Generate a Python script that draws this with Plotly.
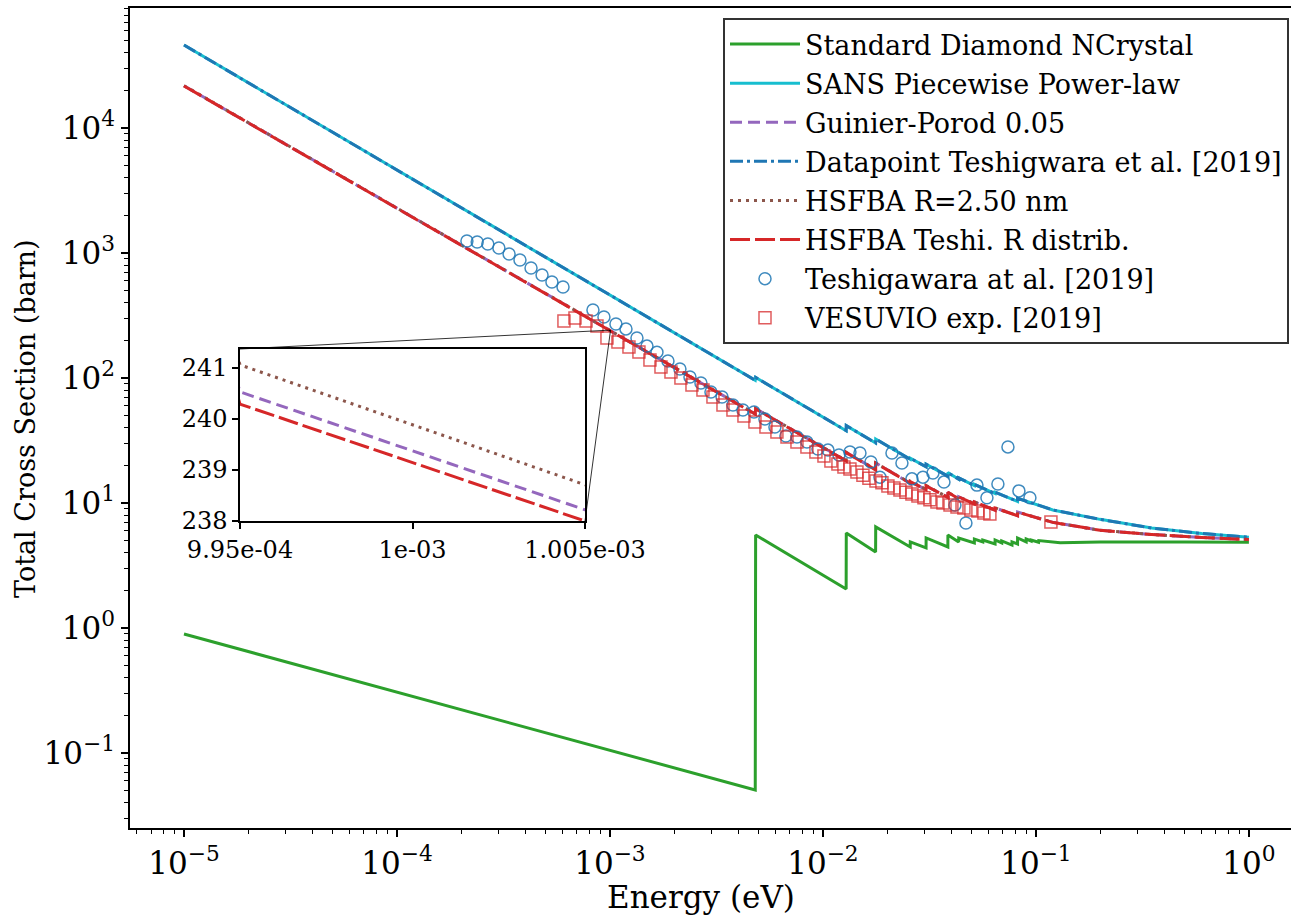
import numpy as np
import plotly.graph_objects as go

# ---------------- data ----------------
# Standard Diamond NCrystal (Bragg-edge sawtooth)
E_green = [1e-5, 4.81e-3, 4.83e-3, 1.285e-2, 1.287e-2, 1.767e-2, 1.769e-2,
           2.569e-2, 2.571e-2, 3.049e-2, 3.051e-2, 3.859e-2, 3.861e-2,
           4.339e-2, 4.341e-2, 5.139e-2, 5.141e-2, 5.629e-2, 5.631e-2,
           6.429e-2, 6.431e-2, 6.909e-2, 6.911e-2, 7.719e-2, 7.721e-2,
           8.199e-2, 8.201e-2, 8.999e-2, 9.001e-2, 9.489e-2, 9.491e-2,
           0.1029, 0.1031, 0.13, 0.2, 0.3, 0.5, 1.0]
sig_green = [0.895, 0.0506, 5.55, 2.05, 5.75, 4.06, 6.43,
             4.45, 4.88, 4.37, 5.25, 4.45, 5.55,
             4.88, 5.25, 4.79, 5.15, 4.88, 5.06,
             4.70, 5.06, 4.79, 4.97, 4.61, 4.88,
             4.70, 5.25, 4.88, 5.15, 4.97, 5.06,
             4.85, 5.00, 4.80, 4.88, 4.85, 4.87, 4.86]

# energy grid of the total-cross-section curves
E_tot = [1e-5, 1e-4, 9.95e-4, 1.005e-3, 2e-3, 4.81e-3, 4.83e-3,
         1.285e-2, 1.287e-2, 1.767e-2, 1.769e-2, 2.569e-2, 2.571e-2,
         3.049e-2, 3.051e-2, 3.859e-2, 3.861e-2, 4.339e-2, 4.341e-2,
         5.139e-2, 5.141e-2, 6.429e-2, 6.431e-2, 8.199e-2, 8.201e-2,
         0.12, 0.2, 0.35, 0.6, 1.0]
sig_sans = [46100, 4610, 463.4, 458.8, 230.6, 95.9, 101.0,
            37.9, 41.6, 30.2, 32.5, 22.4, 22.8,
            19.5, 20.4, 16.4, 17.5, 15.5, 15.9,
            13.8, 14.1, 11.9, 12.2, 10.3, 10.9,
            8.8, 7.4, 6.3, 5.7, 5.33]
sig_datapoint = [46100, 4610, 463.4, 458.8, 230.6, 95.9, 101.0,
                 37.9, 41.6, 30.2, 32.5, 22.4, 22.8,
                 19.5, 20.4, 16.4, 17.5, 15.5, 15.9,
                 13.8, 14.1, 11.9, 12.2, 10.3, 10.9,
                 8.8, 7.4, 6.3, 5.7, 5.33]
sig_guinier = [21750, 2285, 240.53, 238.22, 121.5, 51.5, 56.8,
               21.8, 25.4, 18.5, 20.9, 14.4, 14.8,
               12.8, 13.7, 11.1, 12.2, 10.8, 11.2,
               9.85, 10.2, 8.77, 9.13, 7.91, 8.46,
               7.0, 6.05, 5.6, 5.3, 5.1]
sig_hsfba_r25 = [21800, 2290, 241.06, 238.71, 121.7, 51.6, 56.9,
                 21.8, 25.4, 18.5, 20.9, 14.5, 14.9,
                 12.9, 13.8, 11.1, 12.2, 10.8, 11.2,
                 9.86, 10.2, 8.78, 9.14, 7.92, 8.47,
                 7.0, 6.05, 5.6, 5.3, 5.1]
sig_hsfba_teshi = [21700, 2280, 240.29, 238.00, 121.3, 51.4, 56.7,
                   21.7, 25.3, 18.4, 20.8, 14.4, 14.8,
                   12.8, 13.7, 11.1, 12.2, 10.8, 11.2,
                   9.84, 10.2, 8.76, 9.12, 7.90, 8.45,
                   7.0, 6.05, 5.6, 5.3, 5.1]

# Teshigawara et al. [2019] measured points
E_teshi = [2.13e-4, 2.38e-4, 2.67e-4, 3.01e-4, 3.36e-4, 3.78e-4, 4.26e-4, 4.80e-4,
           5.34e-4, 6.02e-4,
           8.32e-4, 9.37e-4, 1.067e-3, 1.189e-3, 1.339e-3, 1.492e-3, 1.662e-3,
           1.872e-3, 2.131e-3, 2.375e-3, 2.674e-3, 2.98e-3,
           3.36e-3, 3.78e-3, 4.21e-3, 4.745e-3, 5.34e-3, 5.95e-3, 6.70e-3, 7.55e-3,
           8.41e-3, 9.47e-3, 1.056e-2, 1.189e-2, 1.339e-2, 1.492e-2, 1.68e-2,
           1.852e-2, 2.109e-2, 2.349e-2, 2.617e-2, 2.948e-2, 3.284e-2, 3.70e-2,
           4.166e-2, 4.692e-2, 5.284e-2, 5.888e-2, 6.63e-2, 7.39e-2, 8.32e-2, 9.37e-2]
sig_teshi = [1247, 1225, 1180, 1096, 982, 879, 759, 667, 586, 535,
             350, 308, 270, 247, 209, 180, 161, 137, 118, 102, 91.2, 77.3,
             70.5, 60.8, 55.5, 53.5, 47.0, 40.6, 34.4, 33.7,
             30.8, 27.0, 26.5, 24.2, 25.6, 25.1, 21.3,
             16.1, 25.1, 20.9, 15.6, 16.1, 17.4, 14.7,
             9.64, 6.92, 13.9, 11.0, 14.2, 28.1, 12.5, 11.0]

# VESUVIO exp. [2019] measured points
E_vesuvio = [6.08e-4, 6.85e-4, 7.72e-4, 8.69e-4, 9.68e-4, 1.090e-3, 1.228e-3, 1.368e-3,
             1.541e-3, 1.736e-3, 1.934e-3, 2.154e-3, 2.427e-3, 2.733e-3, 3.045e-3,
             3.393e-3, 3.78e-3, 4.257e-3, 4.795e-3, 5.40e-3, 6.08e-3, 6.78e-3, 7.55e-3,
             8.41e-3, 9.27e-3, 1.011e-2, 1.090e-2, 1.176e-2, 1.255e-2, 1.339e-2,
             1.444e-2, 1.541e-2, 1.644e-2, 1.774e-2, 1.892e-2, 2.019e-2, 2.154e-2,
             2.299e-2, 2.453e-2, 2.617e-2, 2.793e-2, 2.98e-2, 3.18e-2, 3.43e-2,
             3.66e-2, 3.95e-2, 4.26e-2, 4.59e-2, 4.95e-2, 5.34e-2, 5.70e-2, 6.08e-2,
             0.1176]
sig_vesuvio = [285.8, 302, 285.8, 260.6, 208.9, 194.1, 177.0, 161.4,
               139.3, 122.5, 111.7, 100, 87.9, 80.2, 70.5,
               60.8, 55.5, 49.7, 44.5, 40.6, 37.0, 33.7, 30.8,
               28.1, 25.6, 23.8, 21.7, 20.5, 19.4, 18.7,
               17.7, 16.7, 15.8, 15.0, 14.5, 13.7, 13.2,
               12.7, 12.2, 11.8, 11.4, 11.0, 10.6, 10.2,
               10.0, 9.64, 9.29, 9.12, 8.79, 8.63, 8.32, 8.17,
               7.05]

# inset window
INSET_X = [9.95e-4, 1.005e-3]
INSET_Y = [238.0, 241.37]
inset_xticks = [9.95e-4, 1e-3, 1.005e-3]
inset_xtext = ["9.95e-04", "1e-03", "1.005e-03"]
inset_yticks = [238, 239, 240, 241]

# main axes (log10 ranges)
X_LOG_RANGE = [-5.2535, 0.1976]
Y_LOG_RANGE = [-1.6, 4.96]
x_major = [1e-5, 1e-4, 1e-3, 1e-2, 1e-1, 1e0]
x_major_text = ["10<sup>−5</sup>", "10<sup>−4</sup>", "10<sup>−3</sup>",
                "10<sup>−2</sup>", "10<sup>−1</sup>", "10<sup>0</sup>"]
y_major = [1e-1, 1e0, 1e1, 1e2, 1e3, 1e4]
y_major_text = ["10<sup>−1</sup>", "10<sup>0</sup>", "10<sup>1</sup>",
                "10<sup>2</sup>", "10<sup>3</sup>", "10<sup>4</sup>"]

# ---------------- styles ----------------
C_GREEN = "#2ca02c"
C_CYAN = "#17becf"
C_PURPLE = "#9467bd"
C_BLUE = "#1f77b4"
C_BROWN = "#8c564b"
C_RED = "#d62728"
FONT = "DejaVu Serif, Liberation Serif, serif"
LW = 3

x_minor = [m * 10.0 ** k for k in range(-6, 1) for m in range(2, 10)]
y_minor = [m * 10.0 ** k for k in range(-2, 5) for m in range(2, 10)]

fig = go.Figure()

lines = [
    (E_green, sig_green, "Standard Diamond NCrystal", C_GREEN, "solid"),
    (E_tot, sig_sans, "SANS Piecewise Power-law", C_CYAN, "solid"),
    (E_tot, sig_guinier, "Guinier-Porod 0.05", C_PURPLE, "12px,6px"),
    (E_tot, sig_datapoint, "Datapoint Teshigwara et al. [2019]", C_BLUE, "13px,4px,3px,4px"),
    (E_tot, sig_hsfba_r25, "HSFBA R=2.50 nm", C_BROWN, "3px,5px"),
    (E_tot, sig_hsfba_teshi, "HSFBA Teshi. R distrib.", C_RED, "20px,5px"),
]
for i, (ex, sy, name, col, dash) in enumerate(lines):
    fig.add_trace(go.Scatter(x=ex, y=sy, mode="lines", name=name,
                             line=dict(color=col, width=LW, dash=dash),
                             legendgroup=f"g{i}"))

fig.add_trace(go.Scatter(x=E_teshi, y=sig_teshi, mode="markers",
                         name="Teshigawara at al. [2019]", legendgroup="g6",
                         marker=dict(symbol="circle-open", size=12, color=C_BLUE,
                                     opacity=0.85, line=dict(width=1.5, color=C_BLUE))))
fig.add_trace(go.Scatter(x=E_vesuvio, y=sig_vesuvio, mode="markers",
                         name="VESUVIO exp. [2019]", legendgroup="g7",
                         marker=dict(symbol="square-open", size=12, color=C_RED,
                                     opacity=0.75, line=dict(width=1.5, color=C_RED))))

# inset traces
for ex, sy, col, dash in [(E_tot, sig_guinier, C_PURPLE, "12px,6px"),
                          (E_tot, sig_hsfba_r25, C_BROWN, "3px,5px"),
                          (E_tot, sig_hsfba_teshi, C_RED, "20px,5px")]:
    fig.add_trace(go.Scatter(x=ex, y=sy, mode="lines", showlegend=False,
                             line=dict(color=col, width=LW, dash=dash),
                             xaxis="x2", yaxis="y2", hoverinfo="skip"))

# geometry of plot area (right spine falls just outside the picture)
W, H = 1291, 916
ML, MR, MT, MB = 130, 0, 8, 88
PW, PH = W - ML - MR, H - MT - MB
INSET_DOM_X = [(240 - ML) / PW, (585 - ML) / PW]
INSET_DOM_Y = [(H - MB - 521) / PH, (H - MB - 349) / PH]


def px_x(v):
    return (np.log10(v) - X_LOG_RANGE[0]) / (X_LOG_RANGE[1] - X_LOG_RANGE[0])


def py_y(v):
    return (np.log10(v) - Y_LOG_RANGE[0]) / (Y_LOG_RANGE[1] - Y_LOG_RANGE[0])


zx0, zx1 = px_x(INSET_X[0]), px_x(INSET_X[1])
zy0, zy1 = py_y(INSET_Y[0]), py_y(INSET_Y[1])
shapes = [
    dict(type="rect", xref="paper", yref="paper", x0=zx0, x1=zx1, y0=zy0, y1=zy1,
         line=dict(color="black", width=1)),
    dict(type="line", xref="paper", yref="paper", x0=INSET_DOM_X[0], y0=INSET_DOM_Y[1],
         x1=zx0, y1=zy1, line=dict(color="rgba(0,0,0,0.8)", width=1)),
    dict(type="line", xref="paper", yref="paper", x0=INSET_DOM_X[1], y0=INSET_DOM_Y[0],
         x1=zx1, y1=zy0, line=dict(color="rgba(0,0,0,0.8)", width=1)),
]

annotations = [
    dict(text="Energy (eV)", xref="paper", yref="paper",
         x=(701 - ML) / PW, y=(H - MB - 897) / PH, xanchor="center", yanchor="middle",
         showarrow=False, font=dict(family=FONT, size=31, color="black")),
    dict(text="Total Cross Section (barn)", xref="paper", yref="paper",
         x=(25 - ML) / PW, y=(H - MB - 419) / PH, xanchor="center", yanchor="middle",
         textangle=-90, showarrow=False, font=dict(family=FONT, size=27, color="black")),
]

axis_common = dict(showline=True, linecolor="black", linewidth=1.5,
                   ticks="outside", tickwidth=1.5, tickcolor="black",
                   showgrid=False, zeroline=False, automargin=False)

fig.update_layout(
    width=W, height=H,
    margin=dict(l=ML, r=MR, t=MT, b=MB, pad=0),
    paper_bgcolor="white", plot_bgcolor="white",
    font=dict(family=FONT, size=27, color="black"),
    xaxis=dict(type="log", range=X_LOG_RANGE, ticklen=7, mirror=True,
               tickvals=x_major, ticktext=x_major_text,
               tickfont=dict(family=FONT, size=31),
               minor=dict(ticks="outside", ticklen=4, tickwidth=1, tickcolor="black",
                          tickvals=x_minor, showgrid=False),
               **axis_common),
    yaxis=dict(type="log", range=Y_LOG_RANGE, ticklen=7, mirror=False,
               tickvals=y_major, ticktext=y_major_text,
               tickfont=dict(family=FONT, size=31),
               minor=dict(ticks="outside", ticklen=4, tickwidth=1, tickcolor="black",
                          tickvals=y_minor, showgrid=False),
               **axis_common),
    xaxis2=dict(domain=INSET_DOM_X, anchor="y2", range=INSET_X, ticklen=6, mirror=True,
                tickvals=inset_xticks, ticktext=inset_xtext,
                tickfont=dict(family=FONT, size=24),
                **axis_common),
    yaxis2=dict(domain=INSET_DOM_Y, anchor="x2", range=INSET_Y, ticklen=6, mirror=True,
                tickvals=inset_yticks, tickfont=dict(family=FONT, size=24),
                **axis_common),
    shapes=shapes,
    annotations=annotations,
    legend=dict(x=(1289 - ML) / PW, y=(H - MB - 18) / PH,
                xanchor="right", yanchor="top",
                bgcolor="rgba(255,255,255,0.85)", bordercolor="#333333", borderwidth=2,
                font=dict(family=FONT, size=27), tracegroupgap=1, itemwidth=70),
    showlegend=True,
)

fig.write_html("out.html")
